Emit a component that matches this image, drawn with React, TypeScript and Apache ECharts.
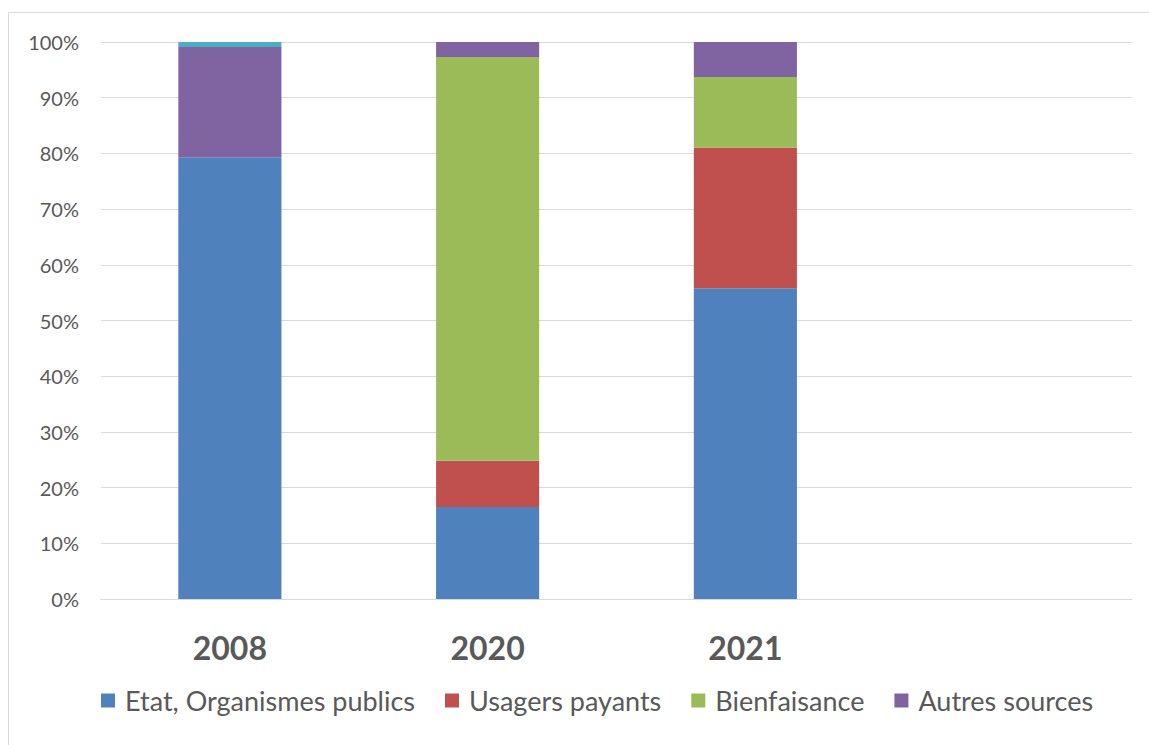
import React, { useEffect, useRef } from "react";
import * as echarts from "echarts";

const categories = ["2008", "2020", "2021", ""];
const etat = [79.3, 16.5, 55.8, null];
const usagers = [0, 8.3, 25.2, null];
const bienfaisance = [0, 72.5, 12.7, null];
const autres = [19.8, 2.7, 6.3, null];
const autre2008 = [0.9, 0, 0, null];
const yTicks = [0, 10, 20, 30, 40, 50, 60, 70, 80, 90, 100];

const FONT = "Lato";
const TXT = "#595959";

export default function App() {
  const ref = useRef<HTMLDivElement>(null);
  useEffect(() => {
    const chart = echarts.init(ref.current!, null, { renderer: "svg" });
    const mk = (name: string, data: (number | null)[], color: string) => ({
      name,
      type: "bar",
      stack: "total",
      data,
      barWidth: "40%",
      itemStyle: { color },
      emphasis: { disabled: true },
    });
    chart.setOption({
      animation: false,
      textStyle: { fontFamily: FONT },
      graphic: [
        {
          type: "rect",
          shape: { x: 8.5, y: 12.5, width: 1300, height: 900 },
          style: { fill: "none", stroke: "#d9d9d9", lineWidth: 1 },
          silent: true,
        },
      ],
      grid: { left: 101, right: 17, top: 42, bottom: 146 },
      legend: {
        data: ["Etat, Organismes publics", "Usagers payants", "Bienfaisance", "Autres sources"],
        left: 96,
        top: 682,
        itemWidth: 14,
        itemHeight: 14,
        itemGap: 30,
        icon: "rect",
        textStyle: { color: TXT, fontSize: 27, fontFamily: FONT, padding: [0, 0, 0, 5] },
      },
      xAxis: {
        type: "category",
        data: categories,
        axisTick: { show: false },
        axisLine: { lineStyle: { color: "#d9d9d9", width: 1 } },
        axisLabel: { color: TXT, fontSize: 32, fontWeight: "bold", margin: 32, fontFamily: FONT },
      },
      yAxis: {
        type: "value",
        min: 0,
        max: 100,
        interval: 10,
        axisLine: { show: false },
        axisTick: { show: false },
        splitLine: { lineStyle: { color: "#d9d9d9", width: 1 } },
        axisLabel: {
          color: TXT,
          fontSize: 20,
          margin: 22,
          fontFamily: FONT,
          formatter: (v: number) => (yTicks.includes(v) ? v + "%" : ""),
        },
      },
      series: [
        mk("Etat, Organismes publics", etat, "#4F81BD"),
        mk("Usagers payants", usagers, "#C0504D"),
        mk("Bienfaisance", bienfaisance, "#9BBB59"),
        mk("Autres sources", autres, "#8064A2"),
        mk("Autre", autre2008, "#4BACC6"),
      ],
    });
    return () => chart.dispose();
  }, []);
  return (
    <div
      ref={ref}
      style={{ position: "absolute", left: 0, top: 0, width: 1149, height: 745, background: "#fff" }}
    />
  );
}
